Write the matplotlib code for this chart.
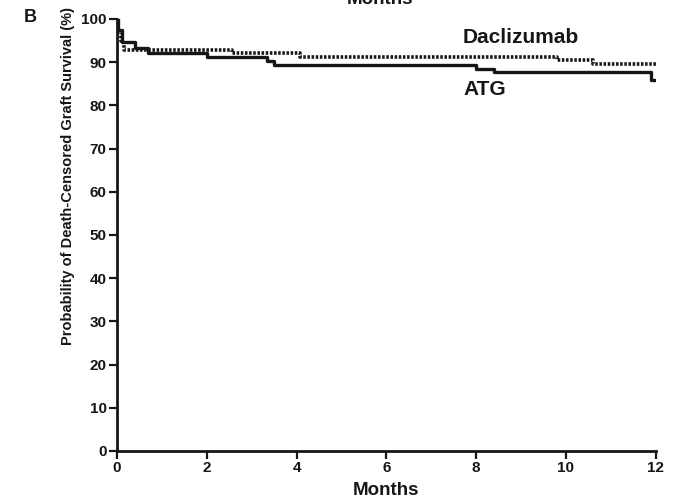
import matplotlib.pyplot as plt

plt.rcParams['font.family'] = ['Liberation Sans', 'DejaVu Sans']
plt.rcParams['font.weight'] = 'bold'

# Kaplan-Meier steps (months, % surviving)
dac_months = [0, 0.03, 0.08, 0.15, 2.56, 4.07, 9.8, 10.6, 12]
dac_surv = [100, 97, 95, 92.8, 92.1, 91.2, 90.4, 89.6, 89.6]

atg_months = [0, 0.03, 0.12, 0.4, 0.7, 2.0, 3.34, 3.5, 8.0, 8.4, 11.9, 12]
atg_surv = [100, 97.5, 94.7, 93.3, 92.1, 91.2, 90.3, 89.4, 88.4, 87.7, 85.9, 85.9]

x_ticks = [0, 2, 4, 6, 8, 10, 12]
y_ticks = list(range(0, 101, 10))

ink = '#161616'

fig = plt.figure(figsize=(6.76, 5.0), dpi=100)
ax = fig.add_axes([0.173, 0.098, 0.797, 0.864])

ax.step(dac_months, dac_surv, where='post', color=ink, lw=2.6,
        linestyle=(0, (0.7, 0.45)))
ax.step(atg_months, atg_surv, where='post', color=ink, lw=2.4)

ax.text(9.0, 95.8, 'Daclizumab', ha='center', va='center', fontsize=15,
        fontweight='bold', color=ink)
ax.text(8.2, 83.6, 'ATG', ha='center', va='center', fontsize=15,
        fontweight='bold', color=ink)

ax.set_xlim(0, 12)
ax.set_ylim(0, 100)
ax.set_xticks(x_ticks)
ax.set_yticks(y_ticks)
ax.tick_params(labelsize=11, width=1.6, length=6, colors=ink, pad=1.5)
for lab in ax.get_xticklabels() + ax.get_yticklabels():
    lab.set_fontweight('bold')
for side in ['top', 'right']:
    ax.spines[side].set_visible(False)
for side in ['left', 'bottom']:
    ax.spines[side].set_linewidth(2)
    ax.spines[side].set_color(ink)

ax.set_xlabel('Months', fontsize=13.5, fontweight='bold', color=ink, labelpad=5)
ax.set_ylabel('Probability of Death-Censored Graft Survival (%)', fontsize=10.5,
              fontweight='bold', color=ink, labelpad=6)
# the y label sits high in the reference, centred near 64% of the axis
ax.yaxis.set_label_coords(-0.078, 0.637)

fig.text(30 / 676, 1 - 18 / 500, 'B', fontsize=13, fontweight='bold',
         ha='center', va='center', color=ink)
# bottom of the x label from the panel above, cut off by the frame
fig.text(380 / 676, 1 - 4 / 500, 'Months', fontsize=13.5, fontweight='bold',
         ha='center', va='baseline', color=ink)

fig.savefig('out.png', dpi=100)
